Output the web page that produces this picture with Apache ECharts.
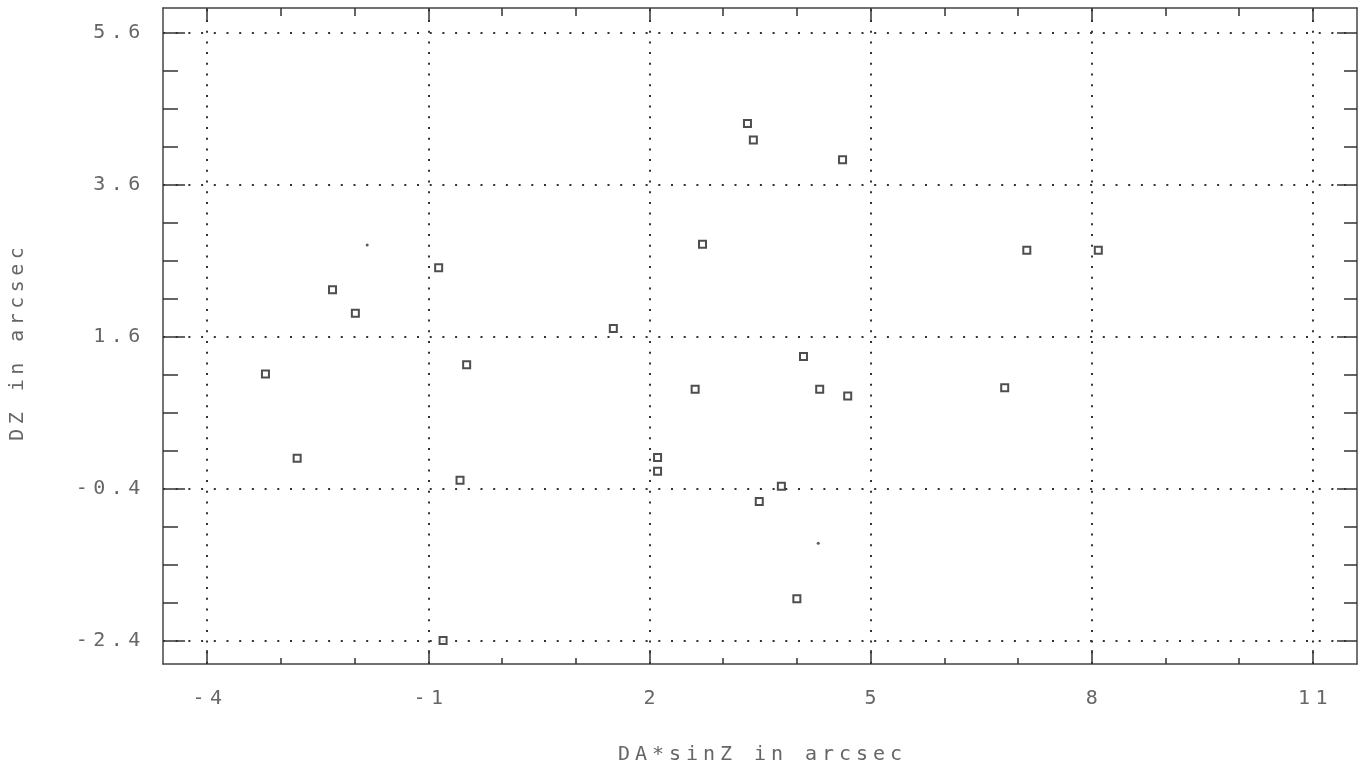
<!DOCTYPE html>
<html>
<head>
<meta charset="utf-8">
<script src="https://cdn.jsdelivr.net/npm/echarts@6/dist/echarts.min.js"></script>
<style>
html,body{margin:0;padding:0;background:#fff;}
#chart{width:1368px;height:770px;}
</style>
</head>
<body>
<div id="chart"></div>
<script>
// ---- data ----
const xValues = [3.33, 3.41, 4.62, 2.72, 7.12, 8.09, -2.30, -0.86, -1.99, 1.51, -3.21, -0.48, 4.09, 2.62, 4.31, 4.69, 6.82, -2.78, 2.11, 2.11, -0.57, 3.79, 3.49, 4.00, -0.80];
const yValues = [4.41, 4.19, 3.93, 2.82, 2.74, 2.74, 2.22, 2.51, 1.91, 1.71, 1.11, 1.23, 1.34, 0.91, 0.91, 0.82, 0.93, 0.00, 0.01, -0.17, -0.29, -0.37, -0.57, -1.85, -2.40];
const dotX = [-1.83, 4.29];
const dotY = [2.81, -1.12];
const xMajorTicks = [-4, -1, 2, 5, 8, 11];
const xMinorTicks = [-3, -2, 0, 1, 3, 4, 6, 7, 9, 10];
const yMajorTicks = [-2.4, -0.4, 1.6, 3.6, 5.6];
const yMinorTicks = [-1.9, -1.4, -0.9, 0.1, 0.6, 1.1, 2.1, 2.6, 3.1, 4.1, 4.6, 5.1];
const xTitle = 'DA*sinZ in arcsec';
const yTitle = 'DZ in arcsec';
const X_MIN = -4.6, X_MAX = 11.6, Y_MIN = -2.71, Y_MAX = 5.93;

// ---- build ----
const FONT = 'DejaVu Sans Mono';
const TXT = '#666';
function spaced(s) { return s.split('').map(ch => '{c|' + ch + '}').join(''); }
function rich(w, fs) { return { c: { width: w, align: 'center', fontFamily: FONT, fontSize: fs, color: TXT, lineHeight: fs + 2 } }; }

const TICK = { color: '#333', width: 1.5 };
function xAxisDef(pos, ticks, len, opts) {
  return Object.assign({
    type: 'value', position: pos, min: X_MIN, max: X_MAX,
    axisLine: { show: false, onZero: false },
    axisTick: { show: true, inside: true, length: len, customValues: ticks, lineStyle: TICK },
    axisLabel: { show: false, customValues: ticks },
    splitLine: { show: false }
  }, opts || {});
}
function yAxisDef(pos, ticks, len, opts) {
  return Object.assign({
    type: 'value', position: pos, min: Y_MIN, max: Y_MAX,
    axisLine: { show: false, onZero: false },
    axisTick: { show: true, inside: true, length: len, customValues: ticks, lineStyle: TICK },
    axisLabel: { show: false, customValues: ticks },
    splitLine: { show: false }
  }, opts || {});
}
const FRAME = { show: true, onZero: false, lineStyle: { color: '#444', width: 1.5 } };

const xAxes = [
  xAxisDef('bottom', xMajorTicks, 14, {
    axisLine: FRAME,
    axisLabel: { show: true, customValues: xMajorTicks, margin: 24,
      formatter: v => spaced(String(Math.round(v))), rich: rich(17.5, 20) },
    name: spaced(xTitle), nameLocation: 'middle', nameGap: 80,
    nameTextStyle: { rich: rich(17, 20) }
  }),
  xAxisDef('top', xMajorTicks, 13, { axisLine: FRAME }),
  xAxisDef('bottom', xMinorTicks, 6),
  xAxisDef('top', xMinorTicks, 8)
];
const yAxes = [
  yAxisDef('left', yMajorTicks, 22, {
    axisLine: FRAME,
    axisLabel: { show: true, customValues: yMajorTicks, margin: 20,
      formatter: v => spaced(v.toFixed(1)), rich: rich(17.5, 20) },
    name: spaced(yTitle), nameLocation: 'middle', nameGap: 134, nameRotate: 90,
    nameTextStyle: { rich: rich(16.5, 20), padding: [0, 16, 0, 0] }
  }),
  yAxisDef('right', yMajorTicks, 20, { axisLine: FRAME }),
  yAxisDef('left', yMinorTicks, 15),
  yAxisDef('right', yMinorTicks, 13)
];

const gridLines = [];
xMajorTicks.forEach(v => gridLines.push({ xAxis: v, lineStyle: { type: [2, 8.7] } }));
yMajorTicks.forEach(v => gridLines.push({ yAxis: v, lineStyle: { type: [2, 10.7] } }));

const option = {
  backgroundColor: '#fff',
  animation: false,
  grid: { left: 163, right: 11, top: 8, bottom: 100 },
  xAxis: xAxes,
  yAxis: yAxes,
  series: [
    {
      type: 'scatter', xAxisIndex: 0, yAxisIndex: 0,
      symbol: 'emptyRect', symbolSize: 7,
      itemStyle: { color: '#222', borderColor: '#222', borderWidth: 1.5 },
      data: xValues.map((x, i) => [x, yValues[i]]),
      markLine: {
        silent: true, symbol: 'none', animation: false,
        label: { show: false },
        lineStyle: { color: '#333', width: 2 },
        data: gridLines
      },
      z: 5
    },
    {
      type: 'scatter', xAxisIndex: 0, yAxisIndex: 0,
      symbol: 'circle', symbolSize: 3,
      itemStyle: { color: '#333' },
      data: dotX.map((x, i) => [x, dotY[i]])
    }
  ]
};
const chart = echarts.init(document.getElementById('chart'), null, { renderer: 'canvas' });
chart.setOption(option);
</script>
</body>
</html>
